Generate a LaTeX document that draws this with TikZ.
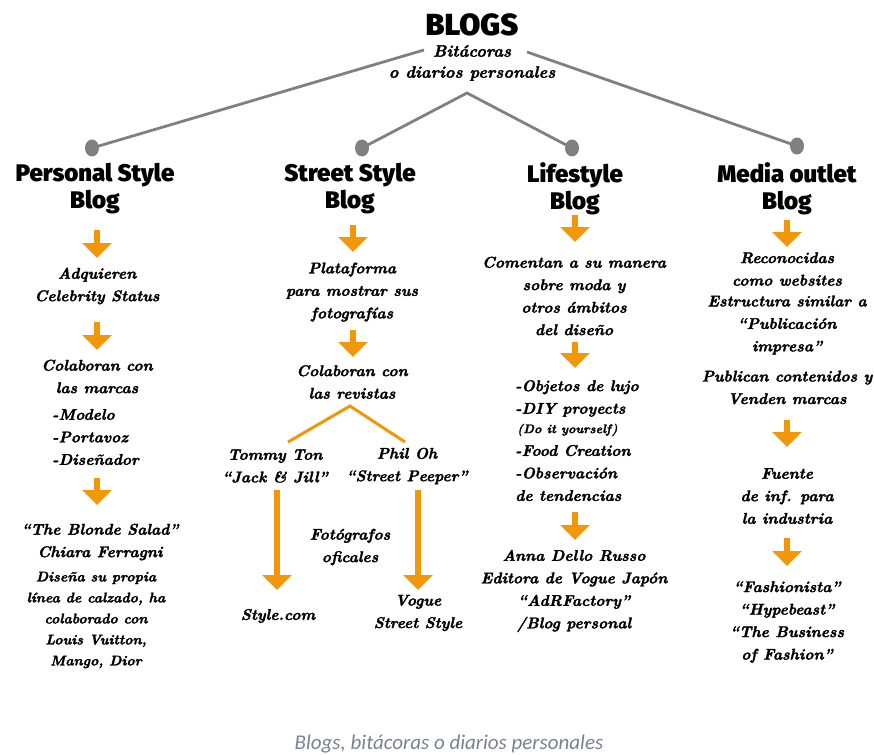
\documentclass[tikz,border=0pt]{standalone}
\usepackage{fontspec}
\usetikzlibrary{arrows.meta,shapes.geometric}
\newfontfamily\headfont{Fira Sans}[UprightFont={* Black}]
\newfontfamily\scrfont{Latin Modern Roman}[FakeBold=1.8]
\newfontfamily\capfont{Carlito}
\definecolor{orng}{RGB}{242,150,10}
\definecolor{lgray}{RGB}{128,128,128}
\definecolor{capcol}{RGB}{120,130,148}
\tikzset{
  headtxt/.style={font=\headfont\fontsize{24}{27}\selectfont, align=center, inner sep=0pt},
  toptxt/.style={font=\headfont\fontsize{30.5}{32}\selectfont, inner sep=0pt},
  scr/.style={font=\scrfont\bfseries\itshape\fontsize{15.5}{22.5}\selectfont, align=center, inner sep=0pt},
  scrleft/.style={font=\scrfont\bfseries\itshape\fontsize{15.5}{22.5}\selectfont, align=left, inner sep=0pt, anchor=west},
  scrsmall/.style={font=\scrfont\bfseries\itshape\fontsize{14}{21}\selectfont, align=center, inner sep=0pt},
  scrtiny/.style={font=\scrfont\bfseries\itshape\fontsize{12.5}{20}\selectfont, inner sep=0pt},
  oarrow/.style={draw=orng, line width=5.5pt, -{Triangle[width=29pt,length=15pt]}},
  oline/.style={draw=orng, line width=3pt},
  gline/.style={draw=lgray, line width=2.8pt},
  gdot/.style={ellipse, fill=lgray, minimum width=14pt, minimum height=17pt, inner sep=0pt}
}
\begin{document}
\begin{tikzpicture}[x=1pt,y=-1pt]
\useasboundingbox (0,0) rectangle (874,754);

% top
\node[toptxt] (blogs) at (472,25) {BLOGS};
\node[scr, font=\scrfont\bfseries\itshape\fontsize{16.5}{21}\selectfont] (sub) at (472,63) {Bitácoras\\o diarios personales};
\coordinate (lstart) at (424,50);
\coordinate (rstart) at (527,52);
\coordinate (apex) at (467,93);

\node[gdot] (d1) at (92,148) {};
\node[gdot] (d2) at (362,148) {};
\node[gdot] (d3) at (572,148) {};
\node[gdot] (d4) at (797,146) {};
\draw[gline] (lstart) -- (d1.center);
\draw[gline] (rstart) -- (d4.center);
\draw[gline] (d2.center) -- (apex) -- (d3.center);

% headings
\node[headtxt] (h1) at (95,188.5) {Personal Style\\Blog};
\node[headtxt] (h2) at (350,188.5) {Street Style\\Blog};
\node[headtxt] (h3) at (575,188.5) {Lifestyle\\Blog};
\node[headtxt] (h4) at (787,188.5) {Media outlet\\Blog};

% column 1
\coordinate (a1s) at (97,230); \coordinate (a1e) at (97,258);
\coordinate (a2s) at (97,322); \coordinate (a2e) at (97,350);
\coordinate (a3s) at (97,478); \coordinate (a3e) at (97,505);
\draw[oarrow] (a1s) -- (a1e);
\draw[oarrow] (a2s) -- (a2e);
\draw[oarrow] (a3s) -- (a3e);
\node[scr] (c1a) at (97,286) {Adquieren\\Celebrity Status};
\node[scr] (c1b) at (97,376.5) {Colaboran con\\las marcas};
\node[scrleft] (c1c) at (52,437) {-Modelo\\-Portavoz\\-Diseñador};
\node[scr] (c1d) at (100,542) {“The Blonde Salad”\\Chiara Ferragni};
\node[scrsmall] (c1e) at (96,620) {Diseña su propia\\línea de calzado, ha\\colaborado con\\Louis Vuitton,\\Mango, Dior};

% column 2
\coordinate (b1s) at (353,225); \coordinate (b1e) at (353,252);
\coordinate (b2s) at (353,330); \coordinate (b2e) at (353,357);
\draw[oarrow] (b1s) -- (b1e);
\draw[oarrow] (b2s) -- (b2e);
\node[scr] (c2a) at (352,292) {Plataforma\\para mostrar sus\\fotografías};
\node[scr] (c2b) at (352,382) {Colaboran con\\las revistas};
\coordinate (fork) at (350,406);
\coordinate (forkl) at (288,442);
\coordinate (forkr) at (405,442);
\draw[oline] (forkl) -- (fork) -- (forkr);
\node[scr] (c2c) at (275,466) {Tommy Ton\\“Jack \& Jill”};
\node[scr] (c2d) at (407,466) {Phil Oh\\“Street Peeper”};
\coordinate (l1s) at (277,490); \coordinate (l1e) at (277,590);
\coordinate (l2s) at (418,490); \coordinate (l2e) at (418,590);
\draw[oarrow] (l1s) -- (l1e);
\draw[oarrow] (l2s) -- (l2e);
\node[scr] (c2e) at (350,547) {Fotógrafos\\oficales};
\node[scr] (c2f) at (278,616) {Style.com};
\node[scr] (c2g) at (418,613) {Vogue\\Street Style};

% column 3
\coordinate (e1s) at (575,215); \coordinate (e1e) at (575,242);
\coordinate (e2s) at (575,342); \coordinate (e2e) at (575,368);
\coordinate (e3s) at (575,512); \coordinate (e3e) at (575,540);
\draw[oarrow] (e1s) -- (e1e);
\draw[oarrow] (e2s) -- (e2e);
\draw[oarrow] (e3s) -- (e3e);
\node[scr] (c3a) at (574,296) {Comentan a su manera\\sobre moda y\\otros ámbitos\\del diseño};
\node[scrleft] (c3b) at (515,398.5) {-Objetos de lujo\\-DIY proyects};
\node[scrtiny, anchor=west] (c3c) at (517,430) {(Do it yourself)};
\node[scrleft] (c3d) at (515,473) {-Food Creation\\-Observación\\de tendencias};
\node[scr] (c3e) at (574,591) {Anna Dello Russo\\Editora de Vogue Japón\\“AdRFactory”\\/Blog personal};

% column 4
\coordinate (f1s) at (787,220); \coordinate (f1e) at (787,247);
\coordinate (f2s) at (787,420); \coordinate (f2e) at (787,447);
\coordinate (f3s) at (787,538); \coordinate (f3e) at (787,566);
\draw[oarrow] (f1s) -- (f1e);
\draw[oarrow] (f2s) -- (f2e);
\draw[oarrow] (f3s) -- (f3e);
\node[scr] (c4a) at (787,269) {Reconocidas\\como websites};
\node[scr] (c4b) at (787,325) {Estructura similar a\\“Publicación\\impresa”};
\node[scr] (c4c) at (787,387.5) {Publican contenidos y\\Venden marcas};
\node[scr] (c4d) at (787,496) {Fuente\\de inf. para\\la industria};
\node[scr] (c4e) at (787,622) {“Fashionista”\\“Hypebeast”\\“The Business\\of Fashion”};

% caption
\node[font=\capfont\itshape\fontsize{21}{24}\selectfont, text=capcol, inner sep=0pt] (cap) at (449,744) {Blogs, bitácoras o diarios personales};
\end{tikzpicture}
\end{document}
